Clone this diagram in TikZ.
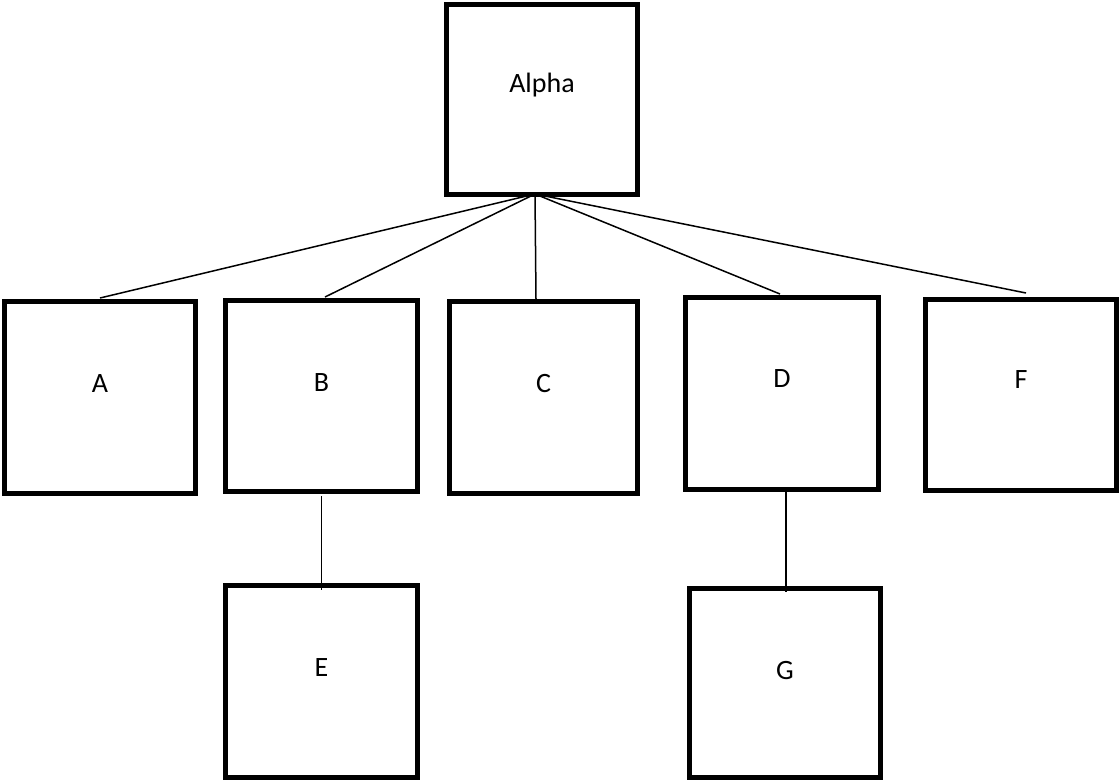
\documentclass[tikz,border=0pt]{standalone}
\usepackage{fontspec}
\setmainfont{Carlito}
\begin{document}
\begin{tikzpicture}[x=1pt,y=-1pt,
  box/.style={draw=black, line width=5pt, rectangle, minimum width=191pt, minimum height=191pt, inner sep=0pt},
  lbl/.style={font=\fontsize{28}{33}\selectfont, inner sep=0pt, text=black},
  conn/.style={draw=black, line width=1.5pt}]
\useasboundingbox (0,0) rectangle (1120,780);
\node[box, minimum width=191pt, minimum height=190pt] (Alpha) at (542,99.5) {};
\node[box, minimum width=191pt, minimum height=192pt] (A) at (100,397.5) {};
\node[box, minimum width=192pt, minimum height=191pt] (B) at (321.5,396) {};
\node[box, minimum width=188pt, minimum height=192pt] (C) at (543.5,397.5) {};
\node[box, minimum width=193pt, minimum height=192pt] (D) at (782,393.5) {};
\node[box, minimum width=191pt, minimum height=191pt] (F) at (1021,395) {};
\node[box, minimum width=192pt, minimum height=192pt] (E) at (321.5,681.5) {};
\node[box, minimum width=191pt, minimum height=189pt] (G) at (785,683) {};
\node[lbl] (tAlpha) at ([yshift=14]Alpha.center) {Alpha};
\node[lbl] (tA) at ([yshift=14]A.center) {A};
\node[lbl] (tB) at ([yshift=13]B.center) {B};
\node[lbl] (tC) at ([yshift=14]C.center) {C};
\node[lbl] (tD) at ([yshift=15]D.center) {D};
\node[lbl] (tF) at ([yshift=15]F.center) {F};
\node[lbl] (tE) at ([yshift=14]E.center) {E};
\node[lbl] (tG) at ([yshift=12]G.center) {G};
\coordinate (hub) at ([xshift=-7pt,yshift=3pt]Alpha.south);
\draw[conn] (hub) -- ([yshift=1pt]A.north);
\draw[conn] (hub) -- ([xshift=3.5pt,yshift=1pt]B.north);
\draw[conn] (hub) -- ([xshift=-7.5pt]C.north);
\draw[conn] (hub) -- ([xshift=-2pt,yshift=1pt]D.north);
\draw[conn] (hub) -- ([xshift=5pt,yshift=4pt]F.north);
\draw[conn] ([yshift=-2pt]B.south -| tB) -- ([yshift=-7pt]E.north -| tB);
\draw[conn] ([xshift=4pt]D.south) -- ([xshift=1pt,yshift=-6pt]G.north);
\end{tikzpicture}
\end{document}
